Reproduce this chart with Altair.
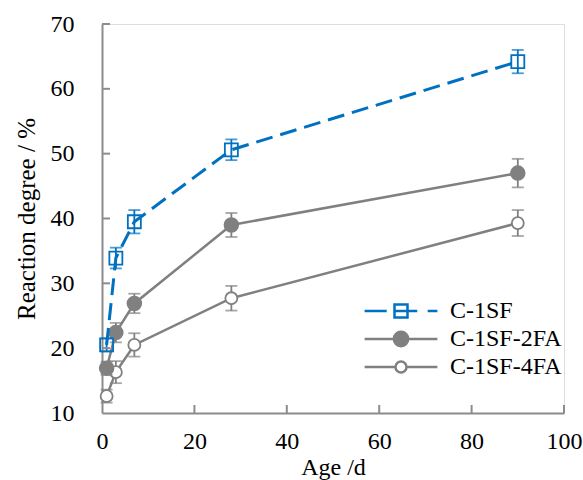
import altair as alt
import pandas as pd

ages = [1, 3, 7, 28, 90]
series_names = ["C-1SF", "C-1SF-2FA", "C-1SF-4FA"]
sf = [20.5, 33.9, 39.5, 50.6, 64.2]
sf_err = [1.0, 1.6, 1.8, 1.6, 1.8]
fa2 = [16.9, 22.4, 26.9, 39.0, 47.0]
fa2_err = [1.0, 1.5, 1.5, 1.85, 2.2]
fa4 = [12.6, 16.3, 20.5, 27.7, 39.3]
fa4_err = [1.0, 1.7, 1.8, 1.9, 2.0]
x_ticks = [0, 20, 40, 60, 80, 100]
y_ticks = [10, 20, 30, 40, 50, 60, 70]

BLUE = "#0070C0"
GREY = "#808080"
AXIS = "#8c8c8c"
FONT = "Liberation Serif, Times New Roman, DejaVu Serif, serif"
W, H = 462, 389


def frame(name, vals, errs):
    return pd.DataFrame({
        "series": name,
        "age": ages,
        "value": vals,
        "lo": [v - e for v, e in zip(vals, errs)],
        "hi": [v + e for v, e in zip(vals, errs)],
    })


xs = alt.Scale(domain=[0, 100], nice=False, zero=False)
ys = alt.Scale(domain=[10, 70], nice=False, zero=False)

X = alt.X("age:Q", scale=xs, axis=alt.Axis(
    values=x_ticks, title="Age /d", tickSize=0, labelPadding=16, labelFlush=False,
    grid=False, domainColor=AXIS, domainWidth=2, labelFont=FONT, labelFontSize=24,
    labelColor="black", titleFont=FONT, titleFontSize=24, titleFontWeight="normal",
    titleColor="black", titlePadding=2))
Y = alt.Y("value:Q", scale=ys, axis=alt.Axis(
    values=y_ticks, title="Reaction degree / %", tickSize=0, labelPadding=28,
    grid=False, domainColor=AXIS, domainWidth=2, labelFont=FONT, labelFontSize=24,
    labelColor="black", titleFont=FONT, titleFontSize=25, titleFontWeight="normal",
    titleColor="black", titlePadding=11))


def series_layers(df, color, dash, lw, shape, size, fill, sw):
    base = alt.Chart(df)
    line_kw = dict(color=color, strokeWidth=lw)
    if dash:
        line_kw["strokeDash"] = dash
    line = base.mark_line(**line_kw).encode(x=X, y=Y)
    bar = base.mark_rule(color=color, strokeWidth=1.8).encode(
        x=alt.X("age:Q", scale=xs), y=alt.Y("lo:Q", scale=ys), y2="hi:Q")
    cap_lo = base.mark_tick(orient="horizontal", size=12, thickness=1.8, color=color).encode(
        x=alt.X("age:Q", scale=xs), y=alt.Y("lo:Q", scale=ys))
    cap_hi = base.mark_tick(orient="horizontal", size=12, thickness=1.8, color=color).encode(
        x=alt.X("age:Q", scale=xs), y=alt.Y("hi:Q", scale=ys))
    pts = base.mark_point(shape=shape, size=size, filled=True, fill=fill,
                          stroke=color, strokeWidth=sw, opacity=1).encode(
        x=alt.X("age:Q", scale=xs), y=alt.Y("value:Q", scale=ys))
    return [line, bar, cap_lo, cap_hi, pts]


layers = []
layers += series_layers(frame("C-1SF-4FA", fa4, fa4_err), GREY, None, 2.5, "circle", 144, "white", 1.8)
layers += series_layers(frame("C-1SF-2FA", fa2, fa2_err), GREY, None, 2.5, "circle", 196, GREY, 1.5)
layers += series_layers(frame("C-1SF", sf, sf_err), BLUE, [17, 8], 3, "square", 169, "transparent", 1.8)

# inward tick marks
ytick_df = pd.DataFrame({"t": y_ticks[1:]})
xtick_df = pd.DataFrame({"t": x_ticks[1:]})
layers.append(alt.Chart(ytick_df).mark_rule(color=AXIS, strokeWidth=2).encode(
    y=alt.Y("t:Q", scale=ys), x=alt.value(0), x2=alt.value(8)))
layers.append(alt.Chart(xtick_df).mark_rule(color=AXIS, strokeWidth=2).encode(
    x=alt.X("t:Q", scale=xs), y=alt.value(H), y2=alt.value(H - 8)))

# legend layer (no marks drawn; only provides the legend)
paths = [
    "M-5.6,0H-2.2M-1,-1H1V1H-1ZM-1,0H2.5M4.1,0H5.6",
    "M-5.6,0H5.6M1.1,0A1.1,1.1,0,1,1,-1.1,0A1.1,1.1,0,1,1,1.1,0Z",
    "M-5.6,0H-0.85M0.85,0H5.6M0.85,0A0.85,0.85,0,1,1,-0.85,0A0.85,0.85,0,1,1,0.85,0Z",
]
leg = alt.Legend(title=None, orient="none", legendX=287, legendY=275,
                 labelFont=FONT, labelFontSize=24, labelColor="black",
                 labelOffset=37, symbolSize=169, symbolStrokeWidth=2.5,
                 symbolOpacity=1, padding=0, rowPadding=3, labelLimit=300)
legend_df = pd.DataFrame({"series": series_names})
layers.append(alt.Chart(legend_df).transform_filter("false").mark_point(filled=True, opacity=1).encode(
    shape=alt.Shape("series:N", scale=alt.Scale(domain=series_names, range=paths), legend=leg),
    stroke=alt.Stroke("series:N", scale=alt.Scale(domain=series_names, range=[BLUE, GREY, GREY]), legend=leg),
    fill=alt.Fill("series:N", scale=alt.Scale(domain=series_names, range=["transparent", GREY, "white"]), legend=leg),
))

chart = alt.layer(*layers).properties(
    width=W, height=H,
    autosize=alt.AutoSizeParams(type="none"),
    padding={"left": 102, "top": 24, "right": 19, "bottom": 67},
).configure_view(stroke=None).configure(background="white")

chart.save("out.html", embed_options={"renderer": "svg", "actions": False})
